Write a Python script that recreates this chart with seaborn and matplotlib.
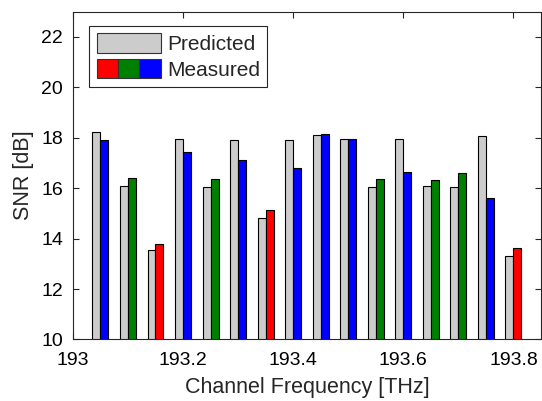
import numpy as np
import pandas as pd
import matplotlib
matplotlib.use("Agg")
import matplotlib.pyplot as plt
from matplotlib.patches import Rectangle
from matplotlib.legend_handler import HandlerTuple
import seaborn as sns

sns.set_style("ticks")
plt.rcParams['font.family'] = ['Liberation Sans', 'DejaVu Sans']

# channel grid [THz]
freqs = [193.05, 193.10, 193.15, 193.20, 193.25, 193.30, 193.35, 193.40,
         193.45, 193.50, 193.55, 193.60, 193.65, 193.70, 193.75, 193.80]
# SNR [dB]
predicted = [18.22, 16.08, 13.56, 17.94, 16.04, 17.93, 14.83, 17.92,
             18.10, 17.94, 16.04, 17.97, 16.09, 16.05, 18.06, 13.32]
measured = [17.92, 16.41, 13.80, 17.44, 16.37, 17.10, 15.15, 16.81,
            18.14, 17.96, 16.37, 16.65, 16.33, 16.59, 15.61, 13.63]
# colour class of each measured bar
meas_class = ["b", "g", "r", "b", "g", "b", "r", "b",
              "b", "b", "g", "b", "g", "g", "b", "r"]
xticks = [193.0, 193.2, 193.4, 193.6, 193.8]
xtick_labels = ["193", "193.2", "193.4", "193.6", "193.8"]
yticks = [10, 12, 14, 16, 18, 20, 22]

cmap = {"r": "#ff0000", "g": "#008000", "b": "#0000ff"}
gray = "#cccccc"

df = pd.DataFrame({
    "Frequency": freqs + freqs,
    "SNR": predicted + measured,
    "Type": ["Predicted"] * len(freqs) + ["Measured"] * len(freqs),
})

fig = plt.figure(figsize=(5.42, 4.01), dpi=100)
ax = fig.add_axes([0.1345, 0.1534, 0.8635, 0.8175])

sns.barplot(data=df, x="Frequency", y="SNR", hue="Type", native_scale=True,
            palette={"Predicted": gray, "Measured": "#0000ff"},
            errorbar=None, width=0.58, edgecolor="black", linewidth=0.8,
            legend=False, ax=ax)

# recolour measured bars by channel class
fr = np.array(freqs)
for p in ax.patches:
    cx = p.get_x() + p.get_width() / 2
    i = int(np.argmin(np.abs(fr - cx)))
    if cx > fr[i]:
        p.set_facecolor(cmap[meas_class[i]])
    else:
        p.set_facecolor(gray)

ax.set_xlim(193.0, 193.85)
ax.set_ylim(10, 23)
ax.set_xticks(xticks)
ax.set_xticklabels(xtick_labels)
ax.set_yticks(yticks)
ax.tick_params(axis='both', direction='in', length=4, width=0.8,
               top=True, right=True, labelsize=14, colors="#262626",
               labelcolor="black")
ax.tick_params(axis='y', pad=7)
ax.tick_params(axis='x', pad=9)
for s in ax.spines.values():
    s.set_visible(True)
    s.set_linewidth(0.8)
    s.set_color("#262626")

ax.set_xlabel("Channel Frequency [THz]", fontsize=15.5, labelpad=6)
ax.set_ylabel("SNR [dB]", fontsize=15.5, labelpad=5)

h_pred = Rectangle((0, 0), 1, 1, facecolor=gray, edgecolor="#333333", linewidth=0.8)
h_meas = tuple(Rectangle((0, 0), 1, 1, facecolor=cmap[c], edgecolor="#333333", linewidth=0.8)
               for c in ["r", "g", "b"])
leg = ax.legend([h_pred, h_meas], ["Predicted", "Measured"],
                handler_map={tuple: HandlerTuple(ndivide=None, pad=0)},
                loc="upper left", bbox_to_anchor=(0.035, 0.956), borderaxespad=0,
                fontsize=15, handlelength=3.08, handleheight=1.04,
                labelspacing=0.25, handletextpad=0.29, borderpad=0.35,
                fancybox=False, framealpha=1, edgecolor="#262626")
leg.get_frame().set_linewidth(0.8)

fig.savefig("out.png", dpi=100)
